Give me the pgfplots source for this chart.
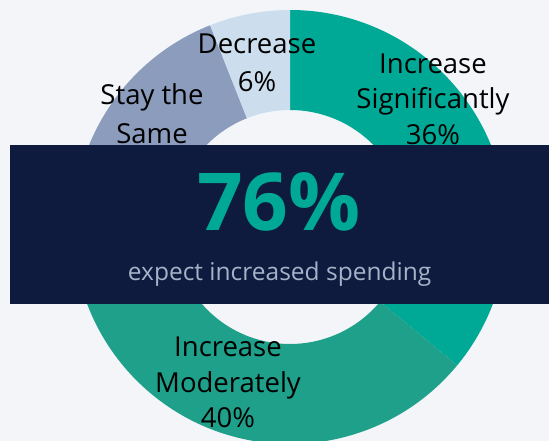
\documentclass[border=0pt]{standalone}
\usepackage{pgfplots}
\pgfplotsset{compat=1.18}
\usepackage{pgfplotstable}
\usepackage{fontspec}
\setmainfont{Open Sans}
\definecolor{incsig}{RGB}{0,169,150}
\definecolor{incmod}{RGB}{30,160,138}
\definecolor{stay}{RGB}{139,156,189}
\definecolor{dec}{RGB}{204,222,238}
\definecolor{bgc}{RGB}{243,245,249}
\definecolor{navy}{RGB}{14,27,63}
\definecolor{subtxt}{RGB}{165,178,200}

\pgfplotstableread{
label value
IncreaseSignificantly 36
IncreaseModerately 40
StaytheSame 18
Decrease 6
}\donutdata

\newcommand\sector[3]{%
  \fill[#1] (axis cs:{290+217*cos(#2)},{227-217*sin(#2)})
    arc[start angle=#2, end angle=#3, radius=217pt]
    -- (axis cs:{290+117*cos(#3)},{227-117*sin(#3)})
    arc[start angle=#3, end angle=#2, radius=117pt] -- cycle;}

\begin{document}
\begin{tikzpicture}
\pgfplotstablegetelem{0}{value}\of\donutdata \let\vA\pgfplotsretval
\pgfplotstablegetelem{1}{value}\of\donutdata \let\vB\pgfplotsretval
\pgfplotstablegetelem{2}{value}\of\donutdata \let\vC\pgfplotsretval
\pgfplotstablegetelem{3}{value}\of\donutdata \let\vD\pgfplotsretval
\pgfmathsetmacro\tA{90}
\pgfmathsetmacro\tB{\tA-3.6*\vA}
\pgfmathsetmacro\tC{\tB-3.6*\vB}
\pgfmathsetmacro\tD{\tC-3.6*\vC}
\pgfmathsetmacro\tE{\tD-3.6*\vD}
\clip (0,0) rectangle (549pt,441pt);
\begin{axis}[
  scale only axis, width=549pt, height=441pt,
  xmin=0, xmax=549, ymin=0, ymax=441, y dir=reverse,
  hide axis, clip=true,
  at={(0,0)}, anchor=south west,
]
\fill[bgc] (axis cs:-5,-5) rectangle (axis cs:560,450);
\sector{incsig}{\tA}{\tB}
\sector{incmod}{\tB}{\tC}
\sector{stay}{\tC}{\tD}
\sector{dec}{\tD}{\tE}
% labels
\begin{scope}[every node/.style={font=\fontsize{27.5}{32}\selectfont, text=black, anchor=base, inner sep=0pt}]
\node at (axis cs:433,73.5) {Increase};
\node at (axis cs:433,109) {Significantly};
\node at (axis cs:433,145) {36\%};
\node at (axis cs:257,54) {Decrease};
\node at (axis cs:257,92) {6\%};
\node at (axis cs:152,105) {Stay the};
\node at (axis cs:152,143.5) {Same};
\node at (axis cs:152,181) {18\%};
\node at (axis cs:228,356) {Increase};
\node at (axis cs:228,392) {Moderately};
\node at (axis cs:228,427) {40\%};
\end{scope}
\fill[navy] (axis cs:10,145) rectangle (axis cs:560,304);
\node[anchor=base, inner sep=0pt, text=incsig, font=\fontsize{80}{90}\selectfont\bfseries] at (axis cs:279,230) {76\%};
\node[anchor=base, inner sep=0pt, text=subtxt, font=\fontsize{24.5}{28}\selectfont] at (axis cs:279.6,280.5) {expect increased spending};
\end{axis}
\end{tikzpicture}
\end{document}
